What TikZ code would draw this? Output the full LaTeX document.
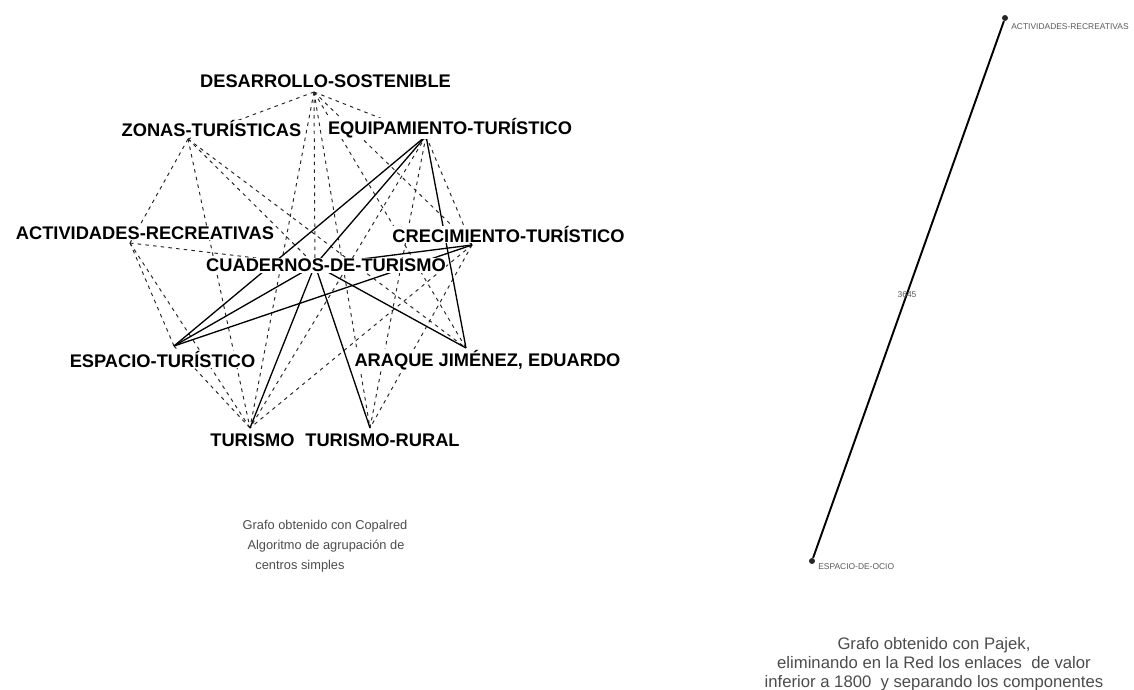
\documentclass[tikz,border=0pt]{standalone}
\usepackage{fontspec}
\setmainfont{Liberation Sans}
\begin{document}
\begin{tikzpicture}[x=0.02cm,y=-0.02cm,
  term/.style={font=\fontsize{10.4}{12}\selectfont\bfseries, fill=white, inner sep=0.4pt},
  weak/.style={draw=black!85, line width=0.55pt, dash pattern=on 2pt off 2.4pt},
  strong/.style={draw=black, line width=0.75pt},
  caption/.style={font=\fontsize{7.3}{10.8}\selectfont, text=black!70, inner sep=0pt},
  bigcaption/.style={font=\fontsize{9.5}{10.8}\selectfont, text=black!70, align=center, inner sep=0pt},
  dot/.style={circle, fill=black!85, inner sep=0pt, minimum size=0.12cm},
  tiny/.style={font=\fontsize{4.8}{6}\selectfont, text=black!65, inner sep=0pt}]
\useasboundingbox (0,0) rectangle (1134,690);

% ---- Copalred graph: node points ----
\coordinate (pDES) at (314,92);
\coordinate (pZON) at (188,139);
\coordinate (pEQU) at (426,136);
\coordinate (pACT) at (130,243);
\coordinate (pCRE) at (472,245);
\coordinate (pCUA) at (315,265);
\coordinate (pESP) at (174,346);
\coordinate (pARA) at (466,348);
\coordinate (pTUR) at (250,428);
\coordinate (pTRU) at (370,428);

% weak links
\foreach \a/\b in {DES/ZON, DES/EQU, DES/CUA, DES/TUR, DES/TRU, DES/ARA, DES/CRE,
                   ZON/ACT, ZON/TUR, ZON/CUA, ZON/ARA,
                   ACT/ESP, ACT/TUR, ACT/CUA,
                   EQU/TUR, EQU/CRE, EQU/TRU,
                   CRE/TUR, CRE/TRU, ESP/TUR}
  \draw[weak] (p\a) -- (p\b);

% strong links
\foreach \a/\b in {EQU/ESP, EQU/CUA, EQU/ARA, CUA/ESP, CUA/CRE,
                   CUA/TUR, CUA/TRU, CUA/ARA, ESP/CRE}
  \draw[strong] (p\a) -- (p\b);

% labels
\node[term] (DES) at (325.5,81) {DESARROLLO-SOSTENIBLE};
\node[term] (ZON) at (211.5,128.5) {ZONAS-TURÍSTICAS};
\node[term] (EQU) at (450,128.5) {EQUIPAMIENTO-TURÍSTICO};
\node[term] (ACT) at (145,233) {ACTIVIDADES-RECREATIVAS};
\node[term] (CRE) at (508.5,234.5) {CRECIMIENTO-TURÍSTICO};
\node[term] (CUA) at (326,265.5) {CUADERNOS-DE-TURISMO};
\node[term] (ESP) at (162.5,359.5) {ESPACIO-TURÍSTICO};
\node[term] (ARA) at (487.5,360) {ARAQUE JIMÉNEZ, EDUARDO};
\node[term] (TUR) at (252.5,440.5) {TURISMO};
\node[term] (TRU) at (382.5,440.5) {TURISMO-RURAL};

\node[caption] (capA) at (325,526) {Grafo obtenido con Copalred};
\node[caption] (capB) at (326,546) {Algoritmo de agrupación de};
\node[caption] (capC) at (300,566) {centros simples};

% ---- Pajek graph ----
\node[dot] (act2) at (1005,18) {};
\node[dot] (esp2) at (812,561) {};
\draw[black, line width=1.1pt] (esp2) -- (act2);
\node[tiny, anchor=west] (lact2) at (1011,27) {ACTIVIDADES-RECREATIVAS};
\node[tiny, anchor=west] (lesp2) at (818,567) {ESPACIO-DE-OCIO};
\node[tiny] (w2) at (907,295) {3645};

\node[bigcaption] (capR) at (934,664) {Grafo obtenido con Pajek,\\
  eliminando en la Red los enlaces\ \ de valor\\
  inferior a 1800\ \ y separando los componentes};
\end{tikzpicture}
\end{document}
